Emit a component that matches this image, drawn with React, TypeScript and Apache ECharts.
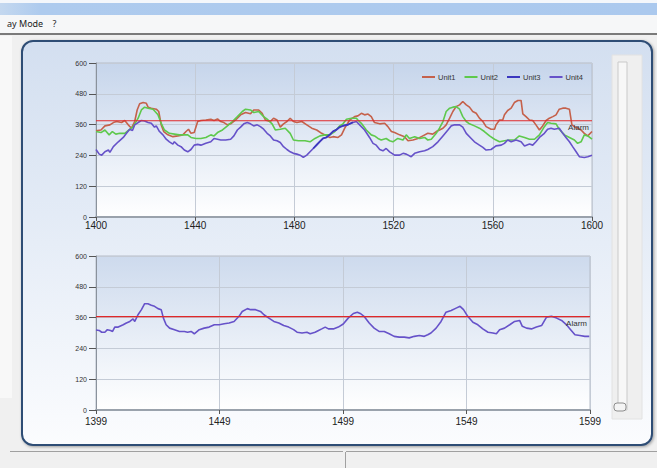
import React, { useEffect, useRef } from "react";
import * as echarts from "echarts";

// ---- data ----
const unit1: [number, number][] = [
  [1400, 336], [1402, 339], [1403.6, 355], [1405.6, 359], [1407, 368], [1408.3, 372], [1410.3, 368], [1411.6, 376],
  [1413, 359], [1414.3, 346], [1415.6, 372], [1416.6, 417], [1417.6, 441], [1419, 446], [1420.3, 443], [1421, 428],
  [1422.3, 424], [1424.3, 420], [1425.3, 411], [1426.3, 359], [1427.3, 333], [1429, 320], [1431, 313], [1433, 316],
  [1435, 320], [1436.3, 333], [1437.3, 342], [1438.3, 326], [1439.6, 329], [1441, 372], [1442.3, 376], [1444.3, 378],
  [1446.3, 381], [1447.6, 376], [1449, 382], [1450.3, 372], [1451.6, 368], [1453, 359], [1454.3, 363], [1456.3, 378],
  [1458.3, 398], [1460.3, 407], [1462.3, 402], [1463.6, 417], [1465.6, 417], [1467, 404], [1468.3, 378], [1470.3, 372],
  [1471.6, 385], [1473, 378], [1474.3, 350], [1475.6, 363], [1477, 372], [1478.3, 385], [1479.6, 372], [1481, 368],
  [1483, 372], [1485, 359], [1487, 346], [1489, 339], [1491, 326], [1492.3, 320], [1494.3, 310], [1495.6, 313],
  [1497.6, 310], [1499, 320], [1500.3, 346], [1502.3, 378], [1504.3, 391], [1505.6, 394], [1507, 404], [1508.3, 398],
  [1509.7, 401], [1511, 391], [1512.3, 368], [1514.4, 363], [1516.4, 365], [1517.7, 352], [1519.1, 333], [1520.4, 329],
  [1522.4, 320], [1524.4, 313], [1525.8, 297], [1527.8, 300], [1529.8, 306], [1531.8, 316], [1533.8, 326], [1535.8, 323],
  [1537.2, 333], [1538.5, 339], [1539.9, 346], [1541.2, 359], [1542.6, 385], [1543.9, 411], [1545.2, 430], [1546.6, 437],
  [1547.9, 450], [1549.3, 437], [1550.6, 428], [1551.9, 411], [1553.3, 404], [1554.6, 385], [1556, 372], [1557.3, 352],
  [1559.3, 342], [1560.7, 342], [1561.3, 359], [1562.7, 378], [1564, 378], [1564.7, 398], [1566, 415], [1567.4, 424],
  [1568.7, 446], [1570.1, 454], [1571.4, 454], [1572.1, 402], [1573.4, 391], [1574.8, 378], [1576.1, 376], [1577.4, 359],
  [1578.8, 339], [1580.1, 355], [1581.5, 376], [1582.8, 385], [1584.2, 391], [1585.5, 398], [1586.8, 420], [1588.2, 424],
  [1589.5, 424], [1590.9, 420], [1591.9, 359], [1592.9, 352], [1594.2, 346], [1595.6, 339], [1596.9, 326], [1598.3, 316],
  [1600, 333],
];

const unit2: [number, number][] = [
  [1400, 333], [1402, 329], [1403.6, 339], [1405.3, 320], [1406.6, 333], [1408, 323], [1409.6, 326], [1411.6, 326],
  [1413.3, 339], [1415, 352], [1417, 385], [1418.3, 417], [1419.6, 428], [1421, 424], [1423, 420], [1425, 398],
  [1426.3, 365], [1427.6, 339], [1429.6, 326], [1431.6, 323], [1433.6, 320], [1435.6, 320], [1437, 320], [1438.3, 310],
  [1440.3, 306], [1442.3, 306], [1444.3, 310], [1446.3, 320], [1447.6, 316], [1449, 329], [1451, 339], [1453, 355],
  [1455, 372], [1457, 391], [1459, 411], [1460.3, 420], [1462.3, 417], [1463.6, 407], [1465.6, 411], [1467.6, 391],
  [1469, 381], [1471, 363], [1472.3, 339], [1474.3, 342], [1476.3, 346], [1478.3, 326], [1479.6, 300], [1481.6, 297],
  [1484.3, 297], [1486.3, 293], [1488.3, 306], [1490.3, 316], [1492.3, 320], [1494.3, 320], [1496.3, 333], [1498.3, 355],
  [1499.6, 363], [1501, 381], [1503, 385], [1505, 385], [1505.6, 378], [1507, 365], [1509, 339], [1511, 320],
  [1512.3, 316], [1513.7, 306], [1515, 300], [1517, 306], [1518.4, 297], [1519.7, 293], [1521.7, 306], [1523.8, 300],
  [1525.1, 320], [1526.4, 306], [1528.5, 313], [1530.5, 306], [1532.5, 310], [1533.8, 300], [1535.2, 303], [1537.2, 326],
  [1538.5, 346], [1539.9, 372], [1541.2, 411], [1542.6, 424], [1543.9, 428], [1545.2, 430], [1546.6, 420], [1547.9, 391],
  [1549.3, 372], [1550.6, 363], [1552.6, 355], [1554.6, 346], [1556.6, 333], [1558.7, 316], [1560.7, 303], [1562.7, 293],
  [1564.7, 297], [1566.7, 300], [1568.7, 300], [1570.7, 316], [1572.8, 310], [1574.8, 303], [1576.8, 303], [1578.8, 320],
  [1580.8, 352], [1582.1, 368], [1583.5, 365], [1585.5, 363], [1586.8, 342], [1588.9, 320], [1590.9, 310], [1592.9, 300],
  [1594.2, 287], [1595.6, 293], [1596.9, 320], [1598.3, 316], [1600, 303],
];

const unit3: [number, number][] = [
  [1487.6, 267], [1489, 282], [1490.3, 295], [1491.6, 307], [1493, 311], [1494.3, 322], [1495.6, 334], [1497, 341],
  [1498.3, 351], [1499.6, 356], [1501.6, 360], [1503.6, 369],
];

const unit4: [number, number][] = [
  [1400, 263], [1401.3, 245], [1402.3, 241], [1403.6, 254], [1405, 261], [1405.6, 252], [1407, 274], [1409, 293],
  [1411, 310], [1412.3, 326], [1413.6, 342], [1414.7, 337], [1415.6, 359], [1417, 368], [1418.3, 376], [1419.6, 374],
  [1421, 368], [1422.3, 365], [1423.6, 350], [1424.3, 355], [1425.6, 333], [1427, 320], [1428.3, 303], [1429.6, 293],
  [1431, 284], [1431.6, 293], [1433, 280], [1434.3, 274], [1435.6, 261], [1437, 254], [1438.3, 263], [1439.6, 280],
  [1441, 283], [1442.3, 280], [1444.3, 287], [1446.3, 293], [1447.6, 306], [1449, 303], [1450.3, 300], [1452.3, 300],
  [1454.3, 303], [1455.6, 316], [1457, 339], [1458.3, 350], [1459.6, 363], [1461, 368], [1462.3, 363], [1463.6, 355],
  [1465, 359], [1466.3, 352], [1467.6, 342], [1469, 326], [1470.3, 316], [1471.6, 300], [1473, 297], [1474.3, 290],
  [1475.6, 274], [1477, 263], [1478.3, 254], [1479.6, 248], [1481, 245], [1482.3, 241], [1483.6, 232], [1485, 241],
  [1486.3, 254], [1487.6, 267], [1489, 280], [1490.3, 293], [1491.6, 306], [1493, 310], [1494.3, 320], [1495.6, 333],
  [1497, 339], [1498.3, 350], [1499.6, 355], [1501.6, 359], [1503.6, 368], [1505, 372], [1506.3, 359], [1508.3, 339],
  [1510.3, 310], [1511.7, 287], [1513, 280], [1514.4, 263], [1515.7, 258], [1517, 267], [1518.4, 254], [1520.4, 241],
  [1522.4, 241], [1523.8, 248], [1525.1, 245], [1527.1, 235], [1528.5, 248], [1530.5, 254], [1532.5, 258], [1533.8, 263],
  [1535.8, 274], [1537.9, 293], [1539.9, 316], [1541.9, 339], [1543.2, 355], [1544.6, 359], [1546.6, 359], [1547.9, 350],
  [1549.3, 326], [1551.3, 306], [1552.6, 293], [1554.6, 280], [1556, 271], [1557.3, 261], [1559.3, 263], [1561.3, 277],
  [1563.4, 280], [1564.7, 287], [1566, 300], [1567.4, 293], [1569.4, 300], [1571.4, 293], [1572.8, 277], [1574.8, 284],
  [1576.1, 280], [1577.4, 293], [1578.8, 310], [1580.8, 326], [1582.1, 342], [1583.5, 346], [1584.8, 342], [1586.8, 346],
  [1588.2, 326], [1589.5, 310], [1590.9, 293], [1592.2, 274], [1593.6, 254], [1594.9, 235], [1596.9, 232], [1598.3, 235],
  [1600, 241],
];

const lower: [number, number][] = [
  [1399, 312], [1400.3, 310], [1401.3, 303], [1402.6, 303], [1403.6, 313], [1404.9, 310], [1405.7, 306], [1406.6, 323],
  [1408, 323], [1410, 332], [1411.3, 339], [1412.7, 345], [1414, 355], [1414.7, 345], [1416, 371], [1417.4, 391],
  [1418.7, 414], [1420, 414], [1421.4, 408], [1422.7, 404], [1424.1, 395], [1425.4, 391], [1426.3, 358], [1427.4, 332],
  [1428.8, 319], [1430.8, 313], [1432.8, 306], [1434.8, 306], [1436.1, 303], [1437.5, 306], [1438.8, 297], [1440.8, 313],
  [1442.8, 319], [1444.8, 323], [1446.9, 332], [1448.9, 332], [1450.9, 336], [1452.9, 339], [1454.9, 345], [1456.9, 365],
  [1458.2, 384], [1460.3, 395], [1461.6, 391], [1463.6, 391], [1465.6, 384], [1467, 371], [1469, 358], [1471, 345],
  [1473, 339], [1475, 329], [1477, 323], [1479, 313], [1480.4, 303], [1482.4, 300], [1484.4, 303], [1485.7, 297],
  [1487.7, 303], [1489.1, 310], [1490.4, 316], [1491.8, 323], [1493.1, 316], [1495.1, 316], [1497.1, 323], [1499.1, 335],
  [1501.1, 358], [1503.2, 376], [1504.8, 381], [1506.2, 375], [1507.5, 365], [1509.6, 339], [1511.6, 319], [1513.6, 306],
  [1515.7, 306], [1517.7, 297], [1519.7, 287], [1521.8, 284], [1523.8, 284], [1525.8, 281], [1527.9, 287], [1529.9, 290],
  [1531.9, 287], [1533.3, 293], [1534.6, 300], [1536.7, 319], [1538.7, 345], [1540.7, 381], [1542.8, 388], [1544.8, 397],
  [1546.4, 404], [1547.8, 391], [1549.5, 365], [1551.6, 342], [1553.6, 332], [1555.6, 316], [1557.7, 303], [1559.7, 300],
  [1561.1, 297], [1562.4, 313], [1564.4, 319], [1566.5, 332], [1568.5, 345], [1570.5, 349], [1571.6, 326], [1573.3, 319],
  [1575.3, 316], [1577.3, 323], [1579.4, 329], [1581.4, 362], [1583.4, 365], [1585.5, 358], [1587.5, 349], [1589.5, 332],
  [1590.9, 316], [1592.9, 293], [1594.9, 290], [1596.9, 287], [1598.7, 287],
];

const legendNames = ["Unit1", "Unit2", "Unit3", "Unit4"];
const topAlarm = 375;
const bottomAlarm = 364;
const topRange = [1400, 1600];
const bottomRange = [1399, 1599];
const menuText = "ay Mode    ?";

export default function App() {
  const ref = useRef<HTMLDivElement>(null);
  useEffect(() => {
    if (!ref.current) return;
    const chart = echarts.init(ref.current, undefined, { renderer: "svg" });
    const plotBg = (top: string) =>
      new echarts.graphic.LinearGradient(0, 0, 0, 1, [
        { offset: 0, color: top },
        { offset: 1, color: "#ffffff" },
      ]);
    const yAxisCommon = {
      type: "value",
      min: 0,
      max: 600,
      interval: 120,
      axisLine: { show: true, lineStyle: { color: "#8a929c", width: 1 } },
      axisTick: { show: true, length: 7, lineStyle: { color: "#555" } },
      axisLabel: { fontSize: 7, color: "#333", margin: 9, fontFamily: "Liberation Sans" },
      splitLine: { show: true, lineStyle: { color: "#c4cbd6", width: 1 } },
    };
    const xAxisCommon = {
      type: "value",
      axisLine: { show: true, onZero: false, lineStyle: { color: "#9aa2ac", width: 2 } },
      axisTick: { show: true, length: 4, lineStyle: { color: "#555" } },
      splitLine: { show: true, lineStyle: { color: "#c4cbd6", width: 1 } },
    };
    const red = "#e0282a";
    const alarmSeries = (range: number[], v: number, idx: number) => ({
      type: "line",
      name: "Alarm" + idx,
      xAxisIndex: idx,
      yAxisIndex: idx,
      z: 5,
      silent: true,
      symbol: "circle",
      symbolSize: 0,
      showSymbol: true,
      lineStyle: { color: red, width: 1.2 },
      itemStyle: { color: red },
      data: [
        [range[0], v],
        {
          value: [range[1], v],
          label: {
            show: true,
            formatter: "Alarm",
            position: "left",
            offset: [2, 7],
            color: "#333",
            fontSize: 8,
            fontFamily: "Liberation Sans",
          },
        },
      ],
    });
    const line = (color: string, width = 1.6) => ({
      type: "line",
      showSymbol: false,
      symbol: "none",
      lineStyle: { color, width },
      itemStyle: { color },
    });
    const xLabel = (margin: number) => ({
      fontSize: 10,
      color: "#222",
      margin,
      fontFamily: "Liberation Sans",
      formatter: (v: number) => String(v),
    });

    chart.setOption({
      animation: false,
      backgroundColor: "#f0f0f0",
      textStyle: { fontFamily: "Liberation Sans" },
      graphic: [
        { type: "rect", z: -10, shape: { x: 0, y: 0, width: 657, height: 3 }, style: { fill: "#f4f7fb" } },
        {
          type: "rect", z: -10, shape: { x: 0, y: 3, width: 657, height: 12 },
          style: { fill: new echarts.graphic.LinearGradient(0, 0, 1, 0, [{ offset: 0, color: "#c4d8ef" }, { offset: 0.06, color: "#aecbee" }, { offset: 1, color: "#abc9ee" }]) },
        },
        { type: "rect", z: -10, shape: { x: 0, y: 15, width: 657, height: 18 }, style: { fill: "#f6f7f8" } },
        { type: "text", z: -9, x: 7, y: 19, style: { text: menuText, fontSize: 9, fill: "#222", fontFamily: "Noto Sans" } },
        { type: "rect", z: -10, shape: { x: 0, y: 33, width: 657, height: 2 }, style: { fill: "#7a7a7a" } },
        { type: "rect", z: -10, shape: { x: 0, y: 36, width: 12, height: 362 }, style: { fill: "#f8f8f8" } },
        {
          type: "rect", z: -8, shape: { x: 22, y: 41, width: 630, height: 404, r: 11 },
          style: {
            fill: new echarts.graphic.LinearGradient(0, 0, 0, 1, [
              { offset: 0, color: "#d3dff0" },
              { offset: 0.5, color: "#e6edf7" },
              { offset: 1, color: "#fbfcfe" },
            ]),
            stroke: "#2f4d75", lineWidth: 2,
            shadowBlur: 3, shadowColor: "rgba(0,0,0,0.35)", shadowOffsetX: 1, shadowOffsetY: 1,
          },
        },
        { type: "rect", z: -7, shape: { x: 612, y: 55, width: 30, height: 364 }, style: { fill: "#efefef", stroke: "#e2e2e2", lineWidth: 1 } },
        { type: "rect", z: -6, shape: { x: 618, y: 62, width: 9, height: 348 }, style: { fill: "#f7f7f7", stroke: "#c9c9c9", lineWidth: 1 } },
        { type: "rect", z: -5, shape: { x: 614, y: 403, width: 12, height: 8, r: 3 }, style: { fill: "#f4f4f4", stroke: "#8d8d8d", lineWidth: 1 } },
        { type: "rect", z: -10, shape: { x: 10, y: 451, width: 647, height: 17 }, style: { fill: "#f0f0f0" } },
        { type: "line", z: -9, shape: { x1: 10, y1: 451.5, x2: 343, y2: 451.5 }, style: { stroke: "#a0a0a0", lineWidth: 1 } },
        { type: "line", z: -9, shape: { x1: 346, y1: 451.5, x2: 657, y2: 451.5 }, style: { stroke: "#a0a0a0", lineWidth: 1 } },
        { type: "line", z: -9, shape: { x1: 345.5, y1: 452, x2: 345.5, y2: 468 }, style: { stroke: "#a0a0a0", lineWidth: 1 } },
      ],
      legend: {
        data: legendNames,
        left: 417,
        top: 68,
        icon: "rect",
        itemWidth: 13,
        itemHeight: 2,
        itemGap: 9,
        textStyle: { fontSize: 7.5, color: "#333", padding: [0, 0, 0, -2] },
      },
      grid: [
        {
          left: 96, top: 63, width: 496, height: 154, show: true,
          backgroundColor: plotBg("#c6d5eb"), borderColor: "#b4bcc8", borderWidth: 1,
        },
        {
          left: 96, top: 256, width: 494, height: 154, show: true,
          backgroundColor: plotBg("#cddaed"), borderColor: "#b4bcc8", borderWidth: 1,
        },
      ],
      xAxis: [
        { ...xAxisCommon, gridIndex: 0, min: topRange[0], max: topRange[1], interval: 40, axisLabel: xLabel(3) },
        { ...xAxisCommon, gridIndex: 1, min: bottomRange[0], max: bottomRange[1], interval: 50, axisLabel: xLabel(6) },
      ],
      yAxis: [
        { ...yAxisCommon, gridIndex: 0 },
        { ...yAxisCommon, gridIndex: 1 },
      ],
      series: [
        alarmSeries(topRange, topAlarm, 0),
        { ...line("#c5614b"), name: "Unit1", xAxisIndex: 0, yAxisIndex: 0, data: unit1 },
        { ...line("#5ec94c"), name: "Unit2", xAxisIndex: 0, yAxisIndex: 0, data: unit2 },
        { ...line("#6652c9"), name: "Unit4", xAxisIndex: 0, yAxisIndex: 0, data: unit4 },
        { ...line("#3b37bf"), name: "Unit3", xAxisIndex: 0, yAxisIndex: 0, data: unit3 },
        alarmSeries(bottomRange, bottomAlarm, 1),
        { ...line("#6652c9"), name: "Lower", xAxisIndex: 1, yAxisIndex: 1, data: lower },
      ],
    });
    return () => chart.dispose();
  }, []);
  return <div ref={ref} style={{ position: "fixed", left: 0, top: 0, width: 657, height: 468 }} />;
}
